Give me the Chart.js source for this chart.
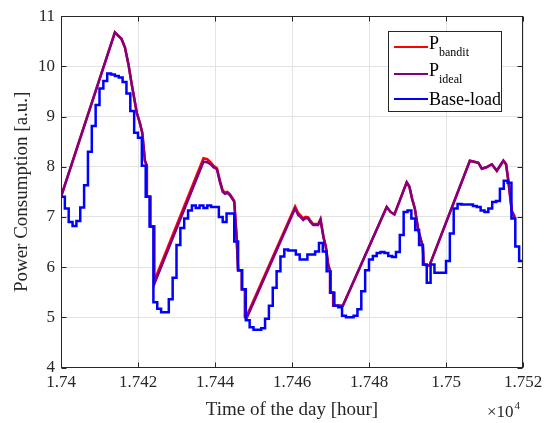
<!DOCTYPE html>
<html>
<head>
<meta charset="utf-8">
<script src="https://cdn.jsdelivr.net/npm/chart.js@4.4.0/dist/chart.umd.min.js"></script>
<style>
  html, body { margin: 0; padding: 0; background: #fff; }
  #wrap { width: 554px; height: 423px; }
</style>
</head>
<body>
<div id="wrap"><canvas id="chart" width="554" height="423"></canvas></div>
<script>
// Power consumption over the day: bandit vs ideal schedule vs base load

const FONT = '"Liberation Serif", "Times New Roman", serif';
const AXIS_COLOR = '#262626';
const T0 = 17400; // first hour on the axis

const xTicks = [17400, 17420, 17440, 17460, 17480, 17500, 17520];
const xTickLabels = ['1.74', '1.742', '1.744', '1.746', '1.748', '1.75', '1.752'];
const yTicks = [4, 5, 6, 7, 8, 9, 10, 11];

// Base-load, one value per hour (hour 0 .. 119 after T0)
const baseLoad = [
    7.40, 7.17, 6.90, 6.82, 6.92, 7.19, 7.63, 8.30, 8.81, 9.23,
    9.56, 9.71, 9.86, 9.84, 9.81, 9.78, 9.69, 9.46, 9.11, 8.68,
    8.58, 8.02, 7.40, 6.81, 5.30, 5.17, 5.10, 5.10, 5.36, 5.79,
    6.44, 6.78, 6.97, 7.13, 7.23, 7.18, 7.23, 7.18, 7.23, 7.20,
    7.20, 7.00, 6.90, 7.07, 7.07, 6.51, 5.94, 5.56, 4.94, 4.80,
    4.75, 4.75, 4.78, 4.97, 5.23, 5.59, 5.92, 6.21, 6.35, 6.33,
    6.33, 6.25, 6.15, 6.15, 6.25, 6.25, 6.31, 6.48, 6.31, 5.92,
    5.49, 5.23, 5.20, 5.03, 5.00, 5.00, 5.03, 5.16, 5.52, 5.94,
    6.15, 6.22, 6.28, 6.30, 6.28, 6.22, 6.20, 6.30, 6.64, 7.10,
    7.13, 6.97, 6.74, 6.44, 6.05, 5.69, 6.05, 5.89, 5.89, 5.89,
    6.12, 6.67, 7.17, 7.26, 7.25, 7.25, 7.25, 7.22, 7.20, 7.13,
    7.10, 7.17, 7.30, 7.32, 7.56, 7.72, 7.68, 6.97, 6.41, 6.12,
    6.12
];

// P_ideal / P_bandit share the same time stamps (hours after T0)
const schedHours = [
    0, 14.0, 14.9, 15.7, 16.6, 17.5, 18.4, 19.7, 20.5, 21.1, 21.8, 22.3, 22.3, 23.2, 23.2, 24.2, 24.2,
    37.0, 38.0, 39.0, 39.6, 40.5, 41.3, 42.0, 42.6, 43.2, 43.9, 45.0, 45.6, 46.0, 47.0, 47.0, 47.8, 47.8, 48.2,
    60.8, 61.6, 62.2, 62.9, 63.5, 64.2, 64.8, 65.5, 66.8, 67.4, 68.2, 68.8, 69.4, 69.9, 69.9, 70.7, 70.7, 73.2,
    84.6, 85.6, 86.6, 89.8, 90.5, 91.2, 91.9, 92.8, 93.6, 94.0, 94.2, 95.7,
    106.2, 107.3, 108.4, 109.3, 110.5, 111.9, 113.2, 114.3, 114.9, 115.6, 116.2, 117.1, 117.9
];
const idealLoad = [
    7.40, 10.68, 10.61, 10.55, 10.38, 10.05, 9.63, 9.07, 8.87, 8.68, 8.12, 8.02, 7.40, 7.40, 6.81, 6.81, 5.66,
    8.10, 8.09, 8.04, 7.99, 7.95, 7.69, 7.50, 7.46, 7.48, 7.43, 7.30, 6.61, 5.94, 5.94, 5.56, 5.56, 5.00, 4.98,
    7.17, 7.04, 7.00, 6.94, 6.98, 6.97, 6.90, 6.84, 6.84, 6.94, 6.58, 6.40, 6.05, 5.92, 5.49, 5.49, 5.23, 5.23,
    7.20, 7.10, 7.05, 7.69, 7.60, 7.36, 7.17, 6.74, 6.51, 6.40, 6.05, 6.03,
    8.12, 8.10, 8.08, 7.96, 7.99, 8.05, 7.92, 8.05, 8.12, 8.05, 7.72, 7.10, 6.97
];
const banditLoad = [
    7.40, 10.68, 10.61, 10.55, 10.38, 10.05, 9.63, 9.07, 8.87, 8.68, 8.12, 8.02, 7.40, 7.40, 6.81, 6.81, 5.72,
    8.17, 8.15, 8.08, 8.02, 7.97, 7.72, 7.53, 7.49, 7.50, 7.45, 7.32, 6.63, 5.94, 5.94, 5.56, 5.56, 5.02, 5.02,
    7.21, 7.08, 7.03, 6.97, 7.00, 6.99, 6.92, 6.86, 6.86, 6.96, 6.60, 6.40, 6.05, 5.92, 5.49, 5.49, 5.23, 5.23,
    7.20, 7.10, 7.05, 7.69, 7.60, 7.36, 7.17, 6.74, 6.51, 6.40, 6.05, 6.03,
    8.12, 8.10, 8.08, 7.96, 7.99, 8.05, 7.92, 8.05, 8.12, 8.05, 7.72, 7.12, 7.00
];

function toPoints(hours, values) {
    return values.map((v, i) => ({ x: T0 + hours[i], y: v }));
}

const baseHours = baseLoad.map((_, i) => i);

// Box, inward ticks, legend with subscripts and the x10^4 exponent
const matlabFrame = {
    id: 'matlabFrame',
    afterDatasetsDraw(chart) {
        const { ctx, chartArea: a, scales } = chart;
        const L = Math.round(a.left) + 0.5, R = Math.round(a.right) - 0.5;
        const T = Math.round(a.top) + 0.5, B = Math.round(a.bottom) - 0.5;
        ctx.save();
        ctx.strokeStyle = AXIS_COLOR;
        ctx.lineWidth = 1;
        ctx.beginPath();
        xTicks.forEach(v => {
            const px = Math.round(scales.x.getPixelForValue(v)) + 0.5;
            ctx.moveTo(px, B); ctx.lineTo(px, B - 5);
            ctx.moveTo(px, T); ctx.lineTo(px, T + 5);
        });
        yTicks.forEach(v => {
            const py = Math.round(scales.y.getPixelForValue(v)) + 0.5;
            ctx.moveTo(L, py); ctx.lineTo(L + 5, py);
            ctx.moveTo(R, py); ctx.lineTo(R - 5, py);
        });
        ctx.stroke();
        ctx.strokeRect(L, T, R - L, B - T);

        // legend
        const box = { x: 388.5, y: 31.5, w: 113, h: 80 };
        ctx.fillStyle = '#fff';
        ctx.fillRect(box.x, box.y, box.w, box.h);
        ctx.strokeStyle = AXIS_COLOR;
        ctx.strokeRect(box.x, box.y, box.w, box.h);

        const items = [
            { color: '#ff0000', main: 'P', sub: 'bandit', lineY: 47, base: 49 },
            { color: '#800080', main: 'P', sub: 'ideal', lineY: 74, base: 76 },
            { color: '#0000ff', main: 'Base-load', sub: '', lineY: 99, base: 105 }
        ];
        items.forEach(it => {
            ctx.strokeStyle = it.color;
            ctx.lineWidth = 2;
            ctx.beginPath();
            ctx.moveTo(394, it.lineY);
            ctx.lineTo(428, it.lineY);
            ctx.stroke();
            ctx.fillStyle = '#000';
            ctx.textBaseline = 'alphabetic';
            ctx.textAlign = 'left';
            ctx.font = '18px ' + FONT;
            ctx.fillText(it.main, 429, it.base);
            if (it.sub) {
                const w = ctx.measureText(it.main).width;
                ctx.font = '12px ' + FONT;
                ctx.fillText(it.sub, 429 + w, it.base + 7);
            }
        });

        // exponent label under the x axis
        ctx.fillStyle = AXIS_COLOR;
        ctx.font = '17px ' + FONT;
        ctx.textAlign = 'left';
        ctx.fillText('\u00d710', 487, 417);
        const w10 = ctx.measureText('\u00d710').width;
        ctx.font = '11px ' + FONT;
        ctx.fillText('4', 487 + w10 + 1, 409);
        ctx.restore();
    }
};

const ctx = document.getElementById('chart').getContext('2d');
new Chart(ctx, {
    type: 'line',
    data: {
        datasets: [
            {
                label: 'Base-load',
                data: toPoints(baseHours, baseLoad),
                borderColor: '#0000ff',
                borderWidth: 2.5,
                stepped: 'before',
                pointRadius: 0,
                fill: false
            },
            {
                label: 'P_ideal',
                data: toPoints(schedHours, idealLoad),
                borderColor: '#800080',
                borderWidth: 2.5,
                pointRadius: 0,
                tension: 0,
                fill: false
            },
            {
                label: 'P_bandit',
                data: toPoints(schedHours, banditLoad),
                borderColor: '#ff0000',
                borderWidth: 2.5,
                pointRadius: 0,
                tension: 0,
                fill: false
            }
        ]
    },
    options: {
        responsive: false,
        animation: false,
        devicePixelRatio: 1,
        layout: { padding: { left: 0, top: 12, right: 31, bottom: 0 } },
        plugins: {
            legend: { display: false },
            tooltip: { enabled: false }
        },
        scales: {
            x: {
                type: 'linear',
                min: 17400,
                max: 17520,
                afterBuildTicks: s => { s.ticks = xTicks.map(v => ({ value: v })); },
                afterFit: s => { s.height = 55.5; },
                ticks: {
                    autoSkip: false,
                    maxRotation: 0,
                    padding: 5,
                    color: AXIS_COLOR,
                    font: { family: FONT, size: 17 },
                    callback: v => xTickLabels[xTicks.indexOf(v)]
                },
                grid: { color: '#e3e3e3', lineWidth: 1, drawTicks: false },
                border: { display: false },
                title: {
                    display: true,
                    text: 'Time of the day [hour]',
                    color: AXIS_COLOR,
                    font: { family: FONT, size: 19 },
                    padding: { top: 0, bottom: 2 }
                }
            },
            y: {
                min: 4,
                max: 11,
                afterBuildTicks: s => { s.ticks = yTicks.map(v => ({ value: v })); },
                afterFit: s => { s.width = 61; },
                ticks: {
                    padding: 6,
                    color: AXIS_COLOR,
                    font: { family: FONT, size: 17 }
                },
                grid: { color: '#e3e3e3', lineWidth: 1, drawTicks: false },
                border: { display: false },
                title: {
                    display: true,
                    text: 'Power Consumption [a.u.]',
                    color: AXIS_COLOR,
                    font: { family: FONT, size: 19 },
                    padding: { top: 11, bottom: 0 }
                }
            }
        }
    },
    plugins: [matlabFrame]
});
</script>
</body>
</html>
